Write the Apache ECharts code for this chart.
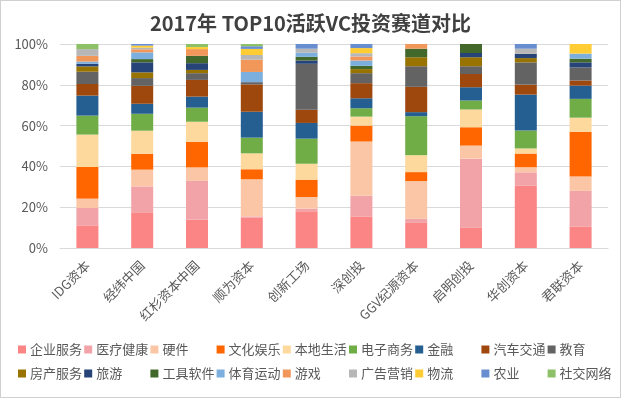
<!DOCTYPE html>
<html>
<head>
<meta charset="utf-8">
<script src="https://cdn.jsdelivr.net/npm/echarts@6/dist/echarts.min.js"></script>
<style>
  html, body { margin: 0; padding: 0; background: #fff; }
  #main { width: 619px; height: 396px; border: 1px solid #d0d0d0; }
</style>
</head>
<body>
<div id="main"></div>
<script>
// 投资机构
const categories = ['IDG资本', '经纬中国', '红杉资本中国', '顺为资本', '创新工场', '深创投', 'GGV纪源资本', '启明创投', '华创资本', '君联资本'];
const yTicks = [0, 20, 40, 60, 80, 100];

// 各赛道占比（%），从下往上堆叠
const qiyeFuwu   = [11.1, 17.5, 13.9, 15.0, 18.0, 15.5, 12.3, 10.1, 30.6, 10.6];
const yiliao     = [8.5, 12.7, 19.0, 0.5, 1.3, 10.1, 2.0, 33.7, 6.5, 17.4];
const yingjian   = [4.6, 8.2, 6.6, 18.2, 5.7, 26.6, 18.5, 6.4, 2.5, 7.0];
const wenhua     = [15.5, 7.8, 12.6, 4.9, 8.5, 7.8, 4.4, 9.0, 6.7, 22.0];
const bendi      = [15.9, 11.3, 9.8, 7.8, 7.8, 4.4, 8.3, 8.7, 2.5, 6.9];
const dianshang  = [9.3, 8.3, 6.9, 7.7, 12.3, 4.1, 19.1, 4.4, 8.8, 9.2];
const jinrong    = [9.8, 4.9, 5.4, 12.7, 7.7, 4.9, 2.0, 6.5, 17.6, 6.5];
const qiche      = [5.7, 8.8, 8.2, 13.4, 6.5, 7.4, 12.4, 6.5, 4.9, 2.5];
const jiaoyu     = [6.0, 3.8, 3.3, 1.1, 22.5, 4.9, 10.1, 3.8, 10.9, 6.4];
const fangchan   = [2.6, 2.8, 1.6, 0, 0, 2.0, 4.4, 4.4, 2.1, 0];
const lvyou      = [1.3, 4.9, 3.3, 0, 1.6, 0, 0, 2.1, 2.1, 2.5];
const gongju     = [0, 1.6, 3.6, 0, 1.8, 1.6, 4.2, 4.4, 0, 1.8];
const tiyu       = [1.1, 3.3, 0, 5.0, 2.0, 2.6, 0, 0, 0, 2.5];
const youxi      = [2.8, 1.5, 3.3, 6.0, 0, 2.0, 2.3, 0, 0, 0];
const guanggao   = [3.3, 0.8, 0, 2.3, 2.0, 1.6, 0, 0, 2.5, 0];
const wuliu      = [0, 1.0, 1.0, 3.0, 0, 2.5, 0, 0, 0, 4.7];
const nongye     = [0, 0.8, 0, 1.3, 2.3, 2.0, 0, 0, 2.3, 0];
const shejiao    = [2.5, 0, 1.5, 1.1, 0, 0, 0, 0, 0, 0];

const seriesNames = ['企业服务', '医疗健康', '硬件', '文化娱乐', '本地生活', '电子商务', '金融', '汽车交通', '教育',
                     '房产服务', '旅游', '工具软件', '体育运动', '游戏', '广告营销', '物流', '农业', '社交网络'];
const seriesData = [qiyeFuwu, yiliao, yingjian, wenhua, bendi, dianshang, jinrong, qiche, jiaoyu,
                    fangchan, lvyou, gongju, tiyu, youxi, guanggao, wuliu, nongye, shejiao];
const colors = ['#fa8584', '#f2a3a8', '#fac6a6', '#ff6600', '#fdd99e', '#70ad47', '#255e91', '#9e480e', '#636363',
                '#997300', '#264478', '#43682b', '#7cafdd', '#f1975a', '#b7b7b7', '#ffcd33', '#698ed0', '#8cc168'];

const textColor = '#595959';
const fontFamily = '"Noto Sans CJK SC", "Noto Sans", sans-serif';

let chart = echarts.init(document.getElementById('main'));

// 图例按列排成两行，每列一个图例
let legends = [];
for (let i = 0; i < 9; i++) {
    legends.push({
        data: [seriesNames[i], seriesNames[i + 9]],
        orient: 'vertical',
        left: 17 + i * 66.2,
        top: 342,
        padding: 0,
        itemGap: 11,
        itemWidth: 8,
        itemHeight: 8,
        icon: 'rect',
        selectedMode: false,
        textStyle: { color: textColor, fontSize: 13, fontFamily: fontFamily, padding: [0, 0, 0, -1] }
    });
}

let option = {
    animation: false,
    color: colors,
    title: {
        text: '2017年 TOP10活跃VC投资赛道对比',
        left: 'center',
        top: 7,
        textStyle: { color: '#404040', fontSize: 20, fontWeight: 'bold', fontFamily: fontFamily }
    },
    legend: legends,
    grid: {
        left: 59,
        right: 12,
        top: 43,
        bottom: 149,
        containLabel: false
    },
    xAxis: {
        type: 'category',
        data: categories,
        axisTick: { show: false },
        axisLine: { lineStyle: { color: '#d9d9d9' } },
        axisLabel: {
            rotate: 45,
            interval: 0,
            margin: 15,
            color: textColor,
            fontSize: 13,
            fontFamily: fontFamily
        }
    },
    yAxis: {
        type: 'value',
        min: yTicks[0],
        max: yTicks[yTicks.length - 1],
        interval: 20,
        axisLine: { show: false },
        axisTick: { show: false },
        splitLine: { lineStyle: { color: '#d9d9d9' } },
        axisLabel: {
            formatter: '{value}%',
            color: textColor,
            fontSize: 13,
            margin: 12,
            fontFamily: fontFamily
        }
    },
    series: seriesNames.map(function (name, i) {
        return {
            name: name,
            type: 'bar',
            stack: 'total',
            barWidth: 22,
            data: seriesData[i],
            itemStyle: { color: colors[i] }
        };
    })
};
chart.setOption(option);
</script>
</body>
</html>
